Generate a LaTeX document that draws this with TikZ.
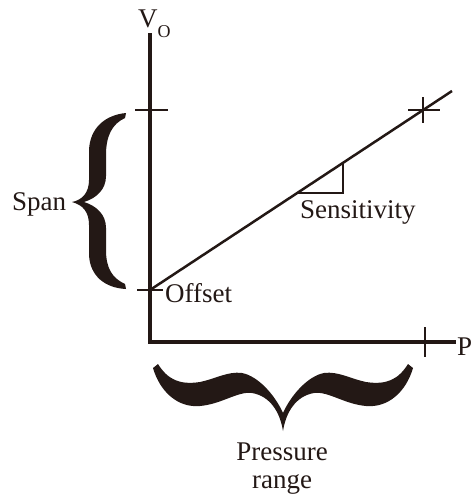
\documentclass[tikz,border=0pt]{standalone}
\usepackage{fontspec}
\setmainfont{Liberation Serif}
\usetikzlibrary{calc}
\definecolor{ink}{RGB}{35,24,21}

\begin{document}
\begin{tikzpicture}[x=1pt, y=-1pt, ink,
    lbl/.style={font=\fontsize{27}{28}\selectfont, inner sep=0pt, text=ink},
    axis/.style={line width=3.5pt},
    tick/.style={line width=2pt}]
  \useasboundingbox (0,0) rectangle (473,498);
  % Axes (pixel coordinates, y down)
  \def\yoff{290}   % offset level
  \def\yfs{110}    % full scale output
  \def\xfs{425}    % full scale pressure
  \coordinate (O) at (150,342);
  \coordinate (ytop) at (150,33);
  \coordinate (xend) at (456,342);
  \draw[axis, line join=miter] (ytop) -- (O) -- (xend);
  % Ticks on the axes
  \draw[tick] (135,\yfs) -- (168,\yfs);
  \draw[tick] (137,\yoff) -- (163,\yoff);
  \draw[tick] (\xfs,327) -- (\xfs,357);
  % Transfer line from offset through full scale point
  \coordinate (off) at (150,\yoff);
  \coordinate (lend) at (452,91);
  \draw[line width=2.5pt] (off) -- (lend);
  \draw[tick] (408,110) -- (440,110) (423,97) -- (423,123);
  % Slope triangle
  \draw[line width=1.8pt] (297,193) -- (343,193) -- (343,163);
  % Span brace
  \fill (126,113) .. controls (105,115) and (90,128) .. (89,150) -- (89,180)
    .. controls (89,193) and (82,200) .. (72,202)
    .. controls (83,205) and (89,212) .. (89,225) -- (89,255)
    .. controls (90,276) and (105,288) .. (126,289) -- (125,284)
    .. controls (112,278) and (106,268) .. (106,250) -- (106,228)
    .. controls (106,215) and (97,206) .. (84,202)
    .. controls (97,198) and (106,189) .. (106,176) -- (106,155)
    .. controls (106,136) and (112,124) .. (125,118) -- cycle;
  % Pressure range brace
  \fill (158,364) .. controls (168,380) and (180,385) .. (200,382)
    .. controls (215,379) and (228,371) .. (242,373)
    .. controls (258,376) and (275,395) .. (283,413)
    .. controls (291,395) and (308,376) .. (324,373)
    .. controls (338,371) and (351,379) .. (366,382)
    .. controls (386,385) and (398,380) .. (408,364) -- (413,368)
    .. controls (406,392) and (388,408) .. (366,406)
    .. controls (344,404) and (328,391) .. (314,393)
    .. controls (296,396) and (286,412) .. (283,431)
    .. controls (280,412) and (270,396) .. (252,393)
    .. controls (238,391) and (222,404) .. (200,406)
    .. controls (178,408) and (160,392) .. (153,368) -- cycle;
  % Labels
  \node[lbl, anchor=base west] (vo) at (138,27) {V\raisebox{-10pt}{\fontsize{18}{18}\selectfont O}};
  \node[lbl, anchor=base west] (p) at (457,355) {P};
  \node[lbl, anchor=base west] (span) at (12,210) {Span};
  \node[lbl, anchor=base west] (offset) at (165,302) {Offset};
  \node[lbl, anchor=base west] (sens) at (300,218) {Sensitivity};
  \node[lbl, anchor=base] (press) at (282,460) {Pressure};
  \node[lbl, anchor=base] (range) at (282,488) {range};
\end{tikzpicture}
\end{document}
